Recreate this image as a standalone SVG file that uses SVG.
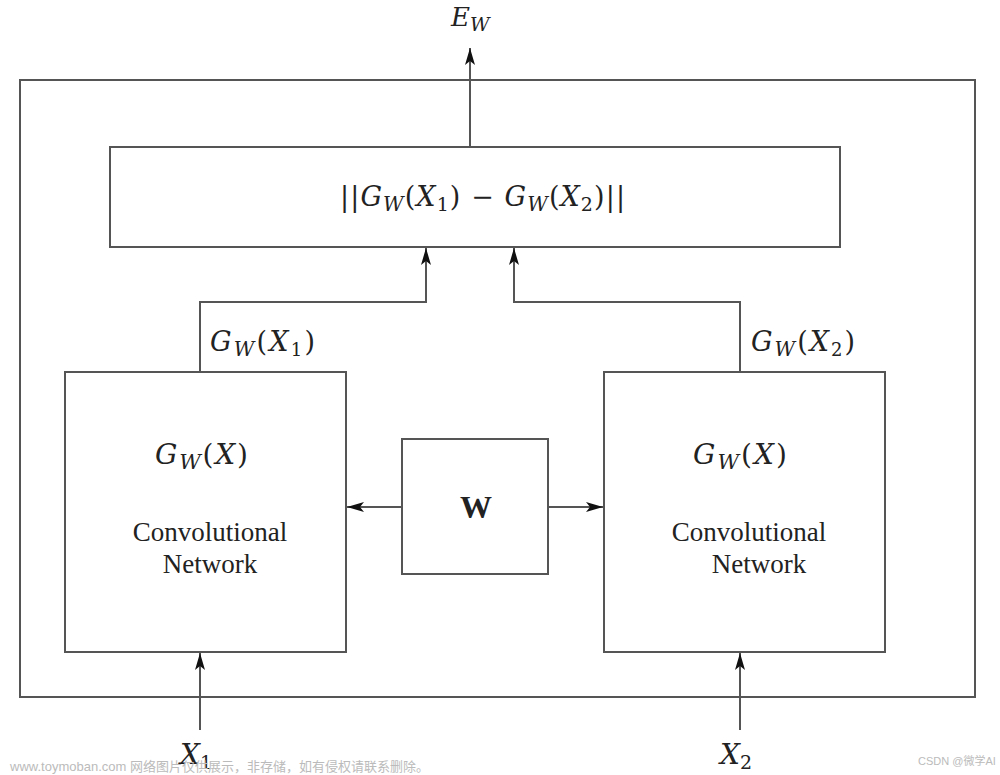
<svg xmlns="http://www.w3.org/2000/svg" width="1000" height="775" viewBox="0 0 1000 775">
<defs>
<marker id="ah" markerWidth="18" markerHeight="10" refX="17" refY="5" orient="auto" markerUnits="userSpaceOnUse">
<path d="M0,0 L17,5 L0,10 L4,5 Z" fill="#111"/>
</marker>
</defs>
<style>
.box{fill:#fff;stroke:#555;stroke-width:2}
.ln{fill:none;stroke:#555;stroke-width:2}
.m{font-family:"DejaVu Serif",serif;font-style:italic;fill:#222}
.r{font-family:"Liberation Serif",serif;fill:#222}
.wm{font-family:"Liberation Sans","Noto Sans CJK SC",sans-serif;fill:#bbb}
</style>
<rect width="1000" height="775" fill="#fff"/>
<g id="outer"><rect class="box" x="20" y="80" width="955" height="617"/></g>
<g id="connectors">
<line class="ln" x1="470" y1="147" x2="470" y2="48" marker-end="url(#ah)"/>
<polyline class="ln" points="200,372 200,302 426,302 426,248" marker-end="url(#ah)"/>
<polyline class="ln" points="740,372 740,302 514,302 514,248" marker-end="url(#ah)"/>
<line class="ln" x1="402" y1="507" x2="347" y2="507" marker-end="url(#ah)"/>
<line class="ln" x1="548" y1="507" x2="603" y2="507" marker-end="url(#ah)"/>
<line class="ln" x1="200" y1="730" x2="200" y2="653" marker-end="url(#ah)"/>
<line class="ln" x1="740" y1="730" x2="740" y2="653" marker-end="url(#ah)"/>
</g>
<g id="dist">
<rect class="box" x="110" y="147" width="730" height="100"/>
<text class="m" x="340" y="206" font-size="27" textLength="285" lengthAdjust="spacing"><tspan font-style="normal">||</tspan>G<tspan font-size="20" dy="5">W</tspan><tspan font-style="normal" dy="-5">(</tspan>X<tspan font-style="normal" font-size="19" dy="5">1</tspan><tspan font-style="normal" dy="-5">) − </tspan>G<tspan font-size="20" dy="5">W</tspan><tspan font-style="normal" dy="-5">(</tspan>X<tspan font-style="normal" font-size="19" dy="5">2</tspan><tspan font-style="normal" dy="-5">)||</tspan></text>
</g>
<g id="left">
<rect class="box" x="65" y="372" width="281" height="280"/>
<text class="m" x="155" y="464" font-size="28" textLength="93" lengthAdjust="spacing">G<tspan font-size="21" dy="5">W</tspan><tspan font-style="normal" dy="-5">(</tspan>X<tspan font-style="normal">)</tspan></text>
<text class="r" x="210" y="541" font-size="27" text-anchor="middle">Convolutional</text>
<text class="r" x="210" y="573" font-size="27" text-anchor="middle">Network</text>
</g>
<g id="right">
<rect class="box" x="604" y="372" width="281" height="280"/>
<text class="m" x="693" y="464" font-size="28" textLength="94" lengthAdjust="spacing">G<tspan font-size="21" dy="5">W</tspan><tspan font-style="normal" dy="-5">(</tspan>X<tspan font-style="normal">)</tspan></text>
<text class="r" x="749" y="541" font-size="27" text-anchor="middle">Convolutional</text>
<text class="r" x="759" y="573" font-size="27" text-anchor="middle">Network</text>
</g>
<g id="w">
<rect class="box" x="402" y="439" width="146" height="135"/>
<text class="r" x="476" y="518" font-size="32" font-weight="bold" text-anchor="middle">W</text>
</g>
<g id="labels">
<text class="m" x="210" y="351" font-size="27" textLength="105" lengthAdjust="spacing">G<tspan font-size="20" dy="5">W</tspan><tspan font-style="normal" dy="-5">(</tspan>X<tspan font-style="normal" font-size="18" dy="5">1</tspan><tspan font-style="normal" dy="-5">)</tspan></text>
<text class="m" x="751" y="351" font-size="27" textLength="104" lengthAdjust="spacing">G<tspan font-size="20" dy="5">W</tspan><tspan font-style="normal" dy="-5">(</tspan>X<tspan font-style="normal" font-size="18" dy="5">2</tspan><tspan font-style="normal" dy="-5">)</tspan></text>
<text class="m" x="451" y="26" font-size="26">E<tspan font-size="19" dy="5">W</tspan></text>
<text class="m" x="180" y="764" font-size="28">X<tspan font-style="normal" font-size="19" dy="5">1</tspan></text>
<text class="m" x="720" y="764" font-size="28">X<tspan font-style="normal" font-size="19" dy="5">2</tspan></text>
</g>
<g id="watermark">
<text class="wm" x="10" y="771" font-size="13">www.toymoban.com 网络图片仅供展示，非存储，如有侵权请联系删除。</text>
<text class="wm" x="918" y="765" font-size="11">CSDN @微学AI</text>
</g>
</svg>
